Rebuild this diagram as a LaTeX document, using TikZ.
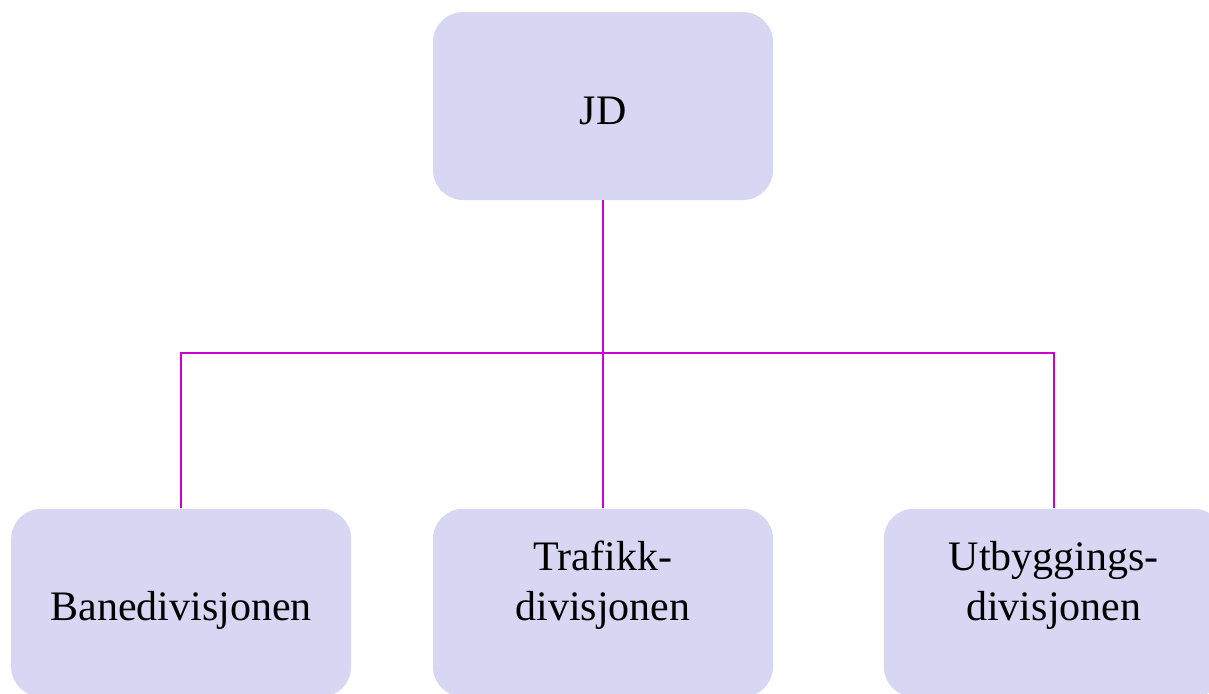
\documentclass[tikz,border=0pt]{standalone}
\usepackage{fontspec}
\setmainfont{Liberation Serif}
\usepackage{tikz}
\usetikzlibrary{positioning}

\definecolor{boxfill}{RGB}{215,215,243}
\definecolor{linkcol}{RGB}{204,0,204}

\tikzset{
    unit/.style = {fill=boxfill, rounded corners=15pt, minimum width=170pt, minimum height=94pt,
        inner sep=0pt, align=center, text height=56pt, text depth=38pt,
        font=\fontsize{21pt}{25pt}\selectfont},
    link/.style = {draw=linkcol, line width=1pt}
}

\begin{document}
\begin{tikzpicture}
    \useasboundingbox (0,0) rectangle (604.5pt,-346.5pt);
    \node[unit] (jd) at (301.5pt,-53pt) {JD};
    \node[unit, below=154pt of jd] (trafikk) {Trafikk-\\divisjonen};
    \node[unit, left=40.5pt of trafikk] (bane) {Banedivisjonen};
    \node[unit, right=55pt of trafikk] (utbygging) {Utbyggings-\\divisjonen};
    \coordinate[below=76.5pt of jd.south] (split);
    % lines from JD down to the divisions
    \draw[link] (jd.south) -- (trafikk.north);
    \draw[link] (split) -| (bane.north);
    \draw[link] (split) -| (utbygging.north);
\end{tikzpicture}
\end{document}
